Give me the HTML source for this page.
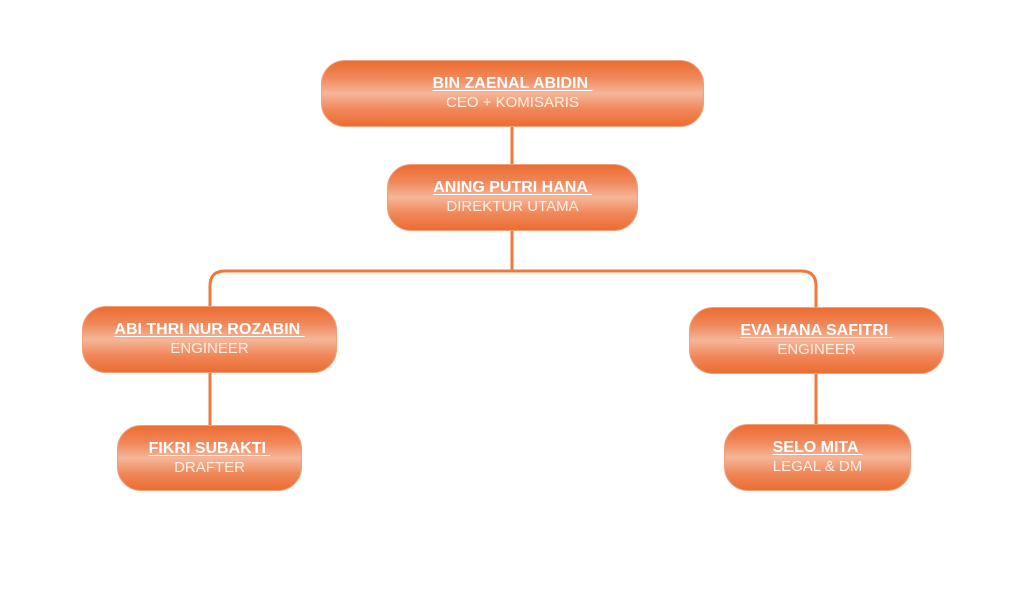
<!DOCTYPE html>
<html><head><meta charset="utf-8"><style>
body{margin:0;width:1024px;height:597px;background:#fff;position:relative;overflow:hidden;font-family:"Liberation Sans",sans-serif}
.b{position:absolute;box-sizing:border-box;border-radius:24px;border:1px solid #f0a07a;
background:linear-gradient(#ec6d32 0%,#f08658 25%,#f5b699 50%,#f08658 75%,#ec6d32 100%);
color:#fff;text-align:center;}
.n{font-weight:bold;font-size:16px;text-decoration:underline;text-decoration-thickness:1px;text-underline-offset:2px;white-space:pre;margin-top:13px;line-height:20px}
.r{font-size:15px;line-height:18px;color:#fdeee6}
svg{position:absolute;left:0;top:0}
</style></head><body>
<svg width="1024" height="597"><g stroke="#ec7a3f" stroke-width="3" fill="none">
<path d="M512 127V164M512 231V271"/>
<path d="M210 306V286Q210 271 225 271H801Q816 271 816 286V307"/>
<path d="M210 373V425M816 374V424"/></g></svg>
<div class="b" style="left:321px;top:60px;width:383px;height:67px"><div class="n">BIN ZAENAL ABIDIN </div><div class="r">CEO + KOMISARIS</div></div>
<div class="b" style="left:387px;top:164px;width:251px;height:67px"><div class="n">ANING PUTRI HANA </div><div class="r">DIREKTUR UTAMA</div></div>
<div class="b" style="left:82px;top:306px;width:255px;height:67px"><div class="n">ABI THRI NUR ROZABIN </div><div class="r">ENGINEER</div></div>
<div class="b" style="left:689px;top:307px;width:255px;height:67px"><div class="n">EVA HANA SAFITRI </div><div class="r">ENGINEER</div></div>
<div class="b" style="left:117px;top:425px;width:185px;height:66px"><div class="n">FIKRI SUBAKTI </div><div class="r">DRAFTER</div></div>
<div class="b" style="left:724px;top:424px;width:187px;height:67px"><div class="n">SELO MITA </div><div class="r">LEGAL &amp; DM</div></div>
</body></html>
